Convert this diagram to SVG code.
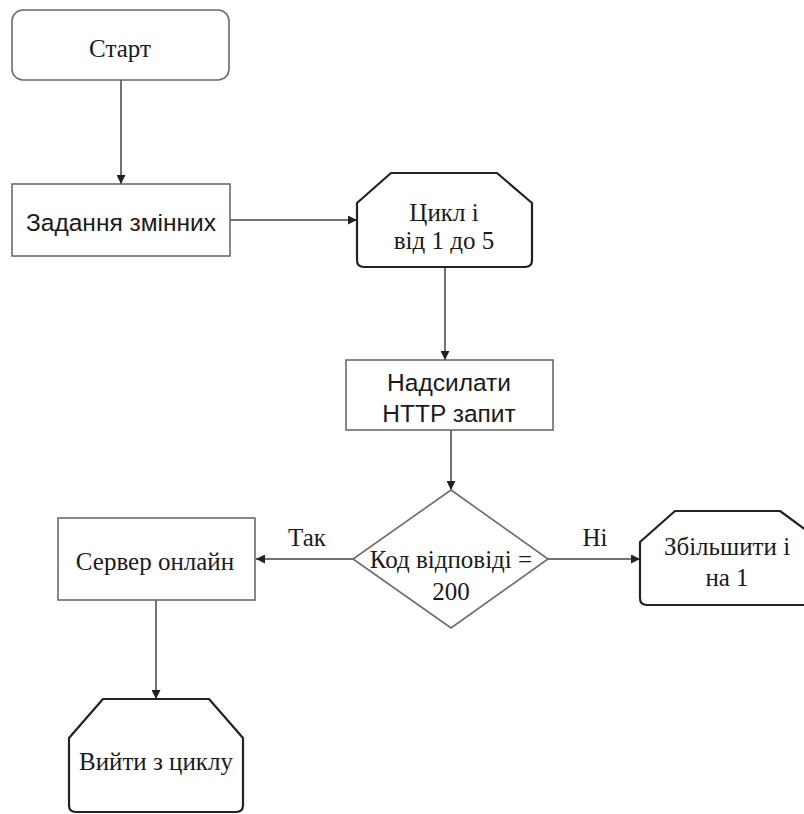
<svg xmlns="http://www.w3.org/2000/svg" width="804" height="814" viewBox="0 0 804 814">
  <style>
    .box { fill: #ffffff; stroke: #6b6b6b; stroke-width: 1.6; }
    .loop { fill: #ffffff; stroke: #222222; stroke-width: 2.2; stroke-linejoin: round; }
    .edge { fill: none; stroke: #444444; stroke-width: 1.5; }
    .serif { font-family: "Liberation Serif", "DejaVu Serif", serif; font-size: 25px; fill: #1a1a1a; text-anchor: middle; }
    .sans { font-family: "Liberation Sans", "DejaVu Sans", sans-serif; font-size: 24.5px; fill: #1a1a1a; text-anchor: middle; }
  </style>
  <defs>
    <marker id="arrow" viewBox="0 0 10 10" refX="10" refY="5" markerWidth="9" markerHeight="9" markerUnits="userSpaceOnUse" orient="auto">
      <path d="M0,0 L10,5 L0,10 Z" fill="#222222"/>
    </marker>
  </defs>
  <rect width="804" height="814" fill="#ffffff"/>

  <!-- connectors -->
  <g id="connectors">
    <line class="edge" x1="121" y1="80" x2="121" y2="184" marker-end="url(#arrow)"/>
    <line class="edge" x1="230" y1="220" x2="357" y2="220" marker-end="url(#arrow)"/>
    <line class="edge" x1="445" y1="267" x2="445" y2="360" marker-end="url(#arrow)"/>
    <line class="edge" x1="451" y1="430" x2="451" y2="490" marker-end="url(#arrow)"/>
    <line class="edge" x1="353" y1="559" x2="256" y2="559" marker-end="url(#arrow)"/>
    <line class="edge" x1="548" y1="559" x2="640" y2="559" marker-end="url(#arrow)"/>
    <line class="edge" x1="156" y1="600" x2="156" y2="699" marker-end="url(#arrow)"/>
    <text class="serif" x="307" y="546">Так</text>
    <text class="serif" x="595" y="546">Ні</text>
  </g>

  <g id="start">
    <rect class="box" x="12" y="10" width="217" height="70" rx="11"/>
    <text class="serif" x="120" y="57">Старт</text>
  </g>

  <g id="vars">
    <rect class="box" x="12" y="184" width="218" height="72"/>
    <text class="sans" x="121" y="231">Задання змінних</text>
  </g>

  <g id="loop">
    <path class="loop" d="M391,173 L497,173 L532,203 L532,260 Q532,267 525,267 L364,267 Q357,267 357,260 L357,203 Z"/>
    <text class="serif" x="444" y="221">Цикл і</text>
    <text class="serif" x="444" y="249">від 1 до 5</text>
  </g>

  <g id="request">
    <rect class="box" x="346" y="360" width="207" height="70"/>
    <text class="sans" x="449" y="391">Надсилати</text>
    <text class="sans" x="449" y="422">HTTP запит</text>
  </g>

  <g id="check">
    <polygon class="box" points="451,490 548,559 451,628 353,559"/>
    <text class="serif" x="451" y="568">Код відповіді =</text>
    <text class="serif" x="451" y="600">200</text>
  </g>

  <g id="online">
    <rect class="box" x="58" y="518" width="197" height="82"/>
    <text class="serif" x="155" y="570">Сервер онлайн</text>
  </g>

  <g id="increment">
    <path class="loop" d="M675,511 L780,511 L806,530 L806,605 L647,605 Q640,605 640,598 L640,542 Z"/>
    <text class="serif" x="727" y="555">Збільшити і</text>
    <text class="serif" x="727" y="586">на 1</text>
  </g>

  <g id="exit">
    <path class="loop" d="M103,699 L209,699 L243,738 L243,805 Q243,812 236,812 L76,812 Q69,812 69,805 L69,738 Z"/>
    <text class="serif" x="156" y="770">Вийти з циклу</text>
  </g>
</svg>
